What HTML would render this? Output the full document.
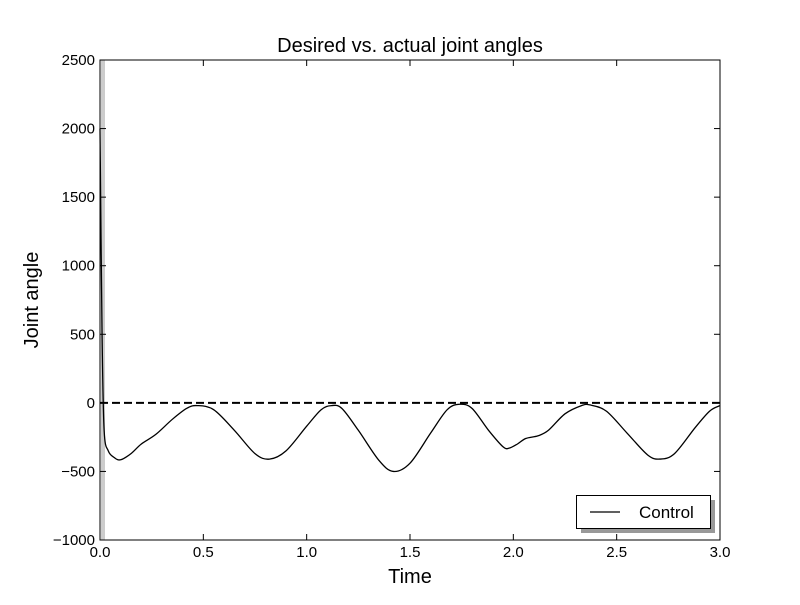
<!DOCTYPE html>
<html><head><meta charset="utf-8"><style>
body{margin:0;background:#fff}
text{font-family:"Liberation Sans",sans-serif}
</style></head><body>
<svg id="c" width="800" height="600" xmlns="http://www.w3.org/2000/svg">
<rect width="800" height="600" fill="#fff"/>
<text x="410" y="52" font-size="20" text-anchor="middle">Desired vs. actual joint angles</text>
<text x="410" y="583" font-size="20" text-anchor="middle">Time</text>
<text transform="translate(38,300) rotate(-90)" font-size="20" text-anchor="middle">Joint angle</text>
<g id="plot"></g>
<rect x="100" y="60" width="620" height="480" fill="none" stroke="#000" stroke-width="1"/>
<g>
<rect x="581" y="500" width="134" height="33" fill="#999"/>
<rect x="576.5" y="495.5" width="134" height="33" fill="#fff" stroke="#000"/>
<line x1="590" y1="512" x2="620" y2="512" stroke="#000" stroke-width="1.3"/>
<text x="639" y="518" font-size="17">Control</text>
</g>
</svg>
<script>
const xTicks=[0,0.5,1,1.5,2,2.5,3];
const xTickLabels=["0.0","0.5","1.0","1.5","2.0","2.5","3.0"];
const yTicks=[-1000,-500,0,500,1000,1500,2000,2500];
const yTickLabels=["\u22121000","\u2212500","0","500","1000","1500","2000","2500"];
const times=[0,0.01,0.02,0.04,0.07,0.1,0.15,0.2,0.27,0.35,0.42,0.47,0.55,0.65,0.75,0.82,0.9,1.0,1.07,1.12,1.17,1.25,1.35,1.42,1.5,1.6,1.68,1.74,1.8,1.88,1.95,1.98,2.02,2.06,2.12,2.17,2.25,2.33,2.37,2.45,2.55,2.65,2.71,2.78,2.88,2.95,3.0];
const control=[2000,500,-200,-350,-400,-415,-370,-300,-230,-120,-40,-20,-50,-200,-370,-410,-350,-170,-50,-20,-40,-200,-420,-500,-440,-220,-50,-10,-40,-200,-320,-330,-300,-260,-240,-200,-80,-20,-15,-60,-220,-380,-410,-370,-180,-60,-20];
const desired=[0,0];
const desiredTimes=[0,3];
const NS="http://www.w3.org/2000/svg";
const X=t=>100+t/3*620;
const Y=v=>60+(2500-v)/3500*480;
const g=document.getElementById('plot');
function mk(tag,attrs){const e=document.createElementNS(NS,tag);for(const k in attrs)e.setAttribute(k,attrs[k]);g.appendChild(e);return e;}
const band=mk('rect',{x:X(0)+1,y:60,width:4,height:480,fill:'#ccc'});


xTicks.forEach((t,i)=>{
 const a=mk('line',{x1:X(t),x2:X(t),y1:540,y2:534,stroke:'#000'});
 
 
 const b=mk('line',{x1:X(t),x2:X(t),y1:60,y2:66,stroke:'#000'});
 
 
 const l=mk('text',{x:X(t),y:557,'font-size':15,'text-anchor':'middle'});l.textContent=xTickLabels[i];
 
 
});
yTicks.forEach((v,i)=>{
 const a=mk('line',{x1:100,x2:106,y1:Y(v),y2:Y(v),stroke:'#000'});
 
 
 const b=mk('line',{x1:714,x2:720,y1:Y(v),y2:Y(v),stroke:'#000'});
 
 
 const l=mk('text',{x:95,y:Y(v)+5,'font-size':15,'text-anchor':'end'});l.textContent=yTickLabels[i];
 
 
});
const dl=mk('line',{x1:X(desiredTimes[0]),y1:Y(desired[0]),x2:X(desiredTimes[1]),y2:Y(desired[1]),stroke:'#000','stroke-width':2,'stroke-dasharray':'8,4'});


const P=times.map((t,i)=>[X(t),Y(control[i])]);
let d='M'+P[0][0]+','+P[0][1];
for(let i=0;i<P.length-1;i++){
 const p0=P[Math.max(0,i-1)],p1=P[i],p2=P[i+1],p3=P[Math.min(P.length-1,i+2)];
 const c1=[p1[0]+(p2[0]-p0[0])/6,p1[1]+(p2[1]-p0[1])/6];
 const c2=[p2[0]-(p3[0]-p1[0])/6,p2[1]-(p3[1]-p1[1])/6];
 d+=`C${c1[0]},${c1[1]} ${c2[0]},${c2[1]} ${p2[0]},${p2[1]}`;
}
const cl=mk('path',{d:d,fill:'none',stroke:'#000','stroke-width':1.3});


</script>
</body></html>
